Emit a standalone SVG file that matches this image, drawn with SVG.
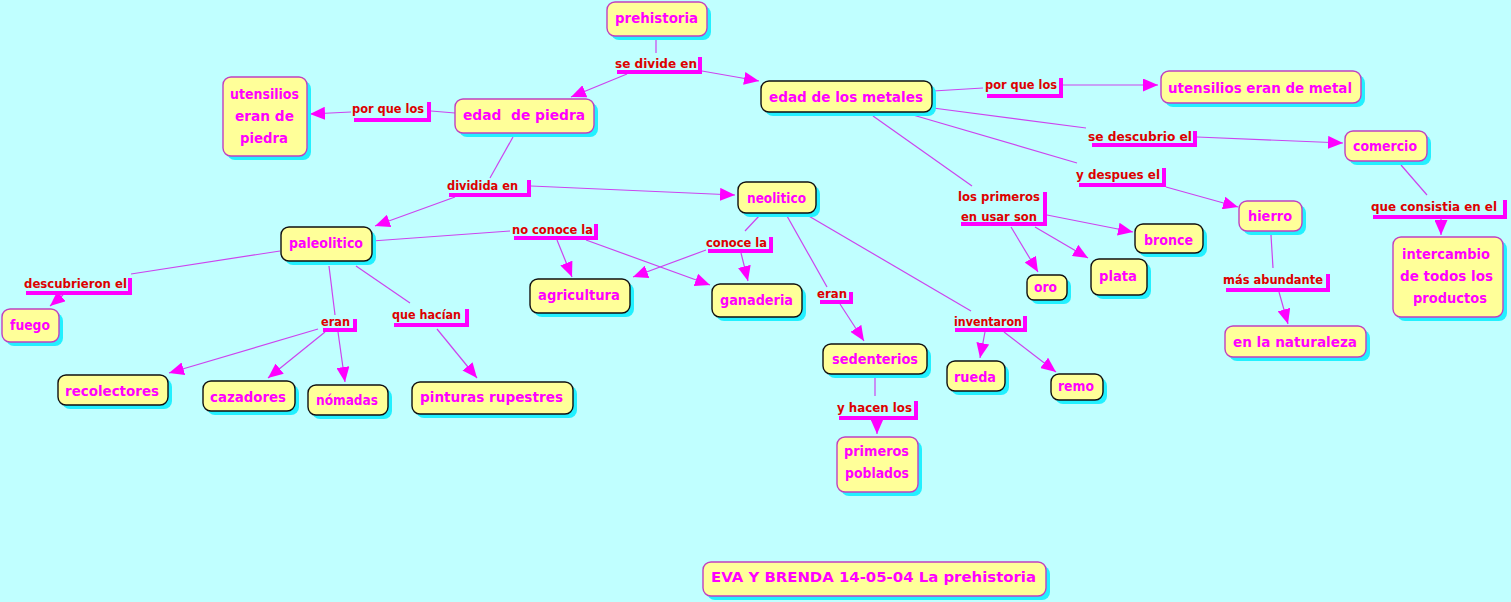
<svg xmlns="http://www.w3.org/2000/svg" width="1511" height="602" viewBox="0 0 1511 602">
<style>
.bg{fill:#c0ffff}
.sh{fill:#22f0ff}
.box{fill:#ffff99;stroke-width:1.4}
.k{stroke:#111}
.m{stroke:#c040c0}
.nt{fill:#ff00ff;font-family:"DejaVu Sans",sans-serif;font-weight:bold;font-size:14.5px;white-space:pre}
.lt{fill:#dd0000;font-family:"DejaVu Sans",sans-serif;font-weight:bold;font-size:13px;white-space:pre}
.br{fill:#ff00ff}
.c line{stroke:#cc44ee;stroke-width:1.2;fill:none}
.c line.a{marker-end:url(#ah)}
</style>
<defs>
<marker id="ah" markerUnits="userSpaceOnUse" markerWidth="15" markerHeight="13" refX="15" refY="6.5" orient="auto">
<path d="M0,0 L15,6.5 L0,13 z" fill="#ff00ff"/>
</marker>
</defs>
<rect class="bg" x="0" y="0" width="1511" height="602"/>

<g id="connectors" class="c">
<line x1="656" y1="37" x2="656" y2="53"/>
<line class="a" x1="627" y1="74" x2="571" y2="97"/>
<line class="a" x1="702" y1="71" x2="759" y2="81"/>
<line x1="455" y1="113" x2="431" y2="111"/>
<line class="a" x1="351" y1="112" x2="310" y2="114"/>
<line x1="933" y1="91" x2="983" y2="88"/>
<line class="a" x1="1063" y1="85" x2="1158" y2="85"/>
<line x1="933" y1="108" x2="1086" y2="128"/>
<line class="a" x1="1197" y1="137" x2="1343" y2="143"/>
<line x1="913" y1="115" x2="1077" y2="163"/>
<line class="a" x1="1166" y1="187" x2="1238" y2="207"/>
<line x1="1401" y1="165" x2="1427" y2="195"/>
<line class="a" x1="1441" y1="219" x2="1441" y2="235"/>
<line x1="1271" y1="235" x2="1273" y2="268"/>
<line class="a" x1="1279" y1="292" x2="1288" y2="324"/>
<line x1="873" y1="116" x2="972" y2="186"/>
<line class="a" x1="1047" y1="215" x2="1133" y2="232"/>
<line class="a" x1="1035" y1="227" x2="1088" y2="258"/>
<line class="a" x1="1011" y1="227" x2="1038" y2="272"/>
<line x1="787" y1="216" x2="827" y2="287"/>
<line class="a" x1="840" y1="304" x2="864" y2="341"/>
<line x1="807" y1="215" x2="971" y2="311"/>
<line class="a" x1="985" y1="332" x2="980" y2="358"/>
<line class="a" x1="1004" y1="332" x2="1056" y2="372"/>
<line x1="875" y1="377" x2="875" y2="396"/>
<line class="a" x1="877" y1="420" x2="877" y2="434"/>
<line x1="513" y1="137" x2="490" y2="178"/>
<line class="a" x1="455" y1="197" x2="375" y2="226"/>
<line class="a" x1="531" y1="186" x2="735" y2="195"/>
<line x1="372" y1="241" x2="510" y2="231"/>
<line class="a" x1="557" y1="240" x2="572" y2="277"/>
<line class="a" x1="586" y1="240" x2="710" y2="285"/>
<line x1="759" y1="216" x2="745" y2="231"/>
<line class="a" x1="706" y1="250" x2="633" y2="277"/>
<line class="a" x1="741" y1="253" x2="748" y2="281"/>
<line x1="280" y1="251" x2="131" y2="274"/>
<line class="a" x1="63" y1="295" x2="50" y2="306"/>
<line x1="329" y1="266" x2="335" y2="315"/>
<line class="a" x1="318" y1="329" x2="169" y2="373"/>
<line class="a" x1="325" y1="332" x2="268" y2="378"/>
<line class="a" x1="338" y1="332" x2="345" y2="382"/>
<line x1="356" y1="266" x2="410" y2="303"/>
<line class="a" x1="437" y1="329" x2="477" y2="378"/>
</g>

<g id="labels">
<g id="l-se-divide"><rect class="br" x="617" y="70" width="85" height="4"/><rect class="br" x="698" y="57" width="4" height="17"/><text class="lt" x="615" y="68" textLength="82" lengthAdjust="spacingAndGlyphs">se divide en</text></g>
<g id="l-porque-l"><rect class="br" x="354" y="118" width="77" height="4"/><rect class="br" x="427" y="102" width="4" height="20"/><text class="lt" x="352" y="113" textLength="72" lengthAdjust="spacingAndGlyphs">por que los</text></g>
<g id="l-porque-r"><rect class="br" x="987" y="94" width="76" height="4"/><rect class="br" x="1059" y="78" width="4" height="20"/><text class="lt" x="985" y="89" textLength="72" lengthAdjust="spacingAndGlyphs">por que los</text></g>
<g id="l-descubrio"><rect class="br" x="1092" y="143" width="105" height="4"/><rect class="br" x="1193" y="131" width="4" height="16"/><text class="lt" x="1088" y="141" textLength="104" lengthAdjust="spacingAndGlyphs">se descubrio el</text></g>
<g id="l-despues"><rect class="br" x="1079" y="183" width="87" height="4"/><rect class="br" x="1162" y="168" width="4" height="19"/><text class="lt" x="1076" y="179" textLength="84" lengthAdjust="spacingAndGlyphs">y despues el</text></g>
<g id="l-consistia"><rect class="br" x="1373" y="215" width="134" height="4"/><rect class="br" x="1503" y="200" width="4" height="19"/><text class="lt" x="1371" y="211" textLength="126" lengthAdjust="spacingAndGlyphs">que consistia en el</text></g>
<g id="l-abundante"><rect class="br" x="1226" y="288" width="104" height="4"/><rect class="br" x="1326" y="274" width="4" height="18"/><text class="lt" x="1223" y="284" textLength="100" lengthAdjust="spacingAndGlyphs">más abundante</text></g>
<g id="l-primeros"><rect class="br" x="961" y="222" width="86" height="4"/><rect class="br" x="1043" y="192" width="4" height="34"/><text class="lt" x="958" y="201" textLength="82" lengthAdjust="spacingAndGlyphs">los primeros</text><text class="lt" x="961" y="221" textLength="76" lengthAdjust="spacingAndGlyphs">en usar son</text></g>
<g id="l-eran-neo"><rect class="br" x="820" y="300" width="33" height="4"/><rect class="br" x="849" y="292" width="4" height="12"/><text class="lt" x="817" y="298" textLength="30" lengthAdjust="spacingAndGlyphs">eran</text></g>
<g id="l-inventaron"><rect class="br" x="955" y="328" width="72" height="4"/><rect class="br" x="1023" y="316" width="4" height="16"/><text class="lt" x="954" y="326" textLength="68" lengthAdjust="spacingAndGlyphs">inventaron</text></g>
<g id="l-hacen"><rect class="br" x="839" y="416" width="79" height="4"/><rect class="br" x="914" y="401" width="4" height="19"/><text class="lt" x="837" y="412" textLength="75" lengthAdjust="spacingAndGlyphs">y hacen los</text></g>
<g id="l-dividida"><rect class="br" x="449" y="193" width="82" height="4"/><rect class="br" x="527" y="180" width="4" height="17"/><text class="lt" x="447" y="190" textLength="71" lengthAdjust="spacingAndGlyphs">dividida en</text></g>
<g id="l-noconoce"><rect class="br" x="514" y="236" width="84" height="4"/><rect class="br" x="594" y="224" width="4" height="16"/><text class="lt" x="512" y="234" textLength="81" lengthAdjust="spacingAndGlyphs">no conoce la</text></g>
<g id="l-conoce"><rect class="br" x="708" y="249" width="65" height="4"/><rect class="br" x="769" y="237" width="4" height="16"/><text class="lt" x="706" y="247" textLength="61" lengthAdjust="spacingAndGlyphs">conoce la</text></g>
<g id="l-descubrieron"><rect class="br" x="26" y="291" width="106" height="4"/><rect class="br" x="128" y="278" width="4" height="17"/><text class="lt" x="24" y="288" textLength="103" lengthAdjust="spacingAndGlyphs">descubrieron el</text></g>
<g id="l-eran-paleo"><rect class="br" x="323" y="328" width="34" height="4"/><rect class="br" x="353" y="319" width="4" height="13"/><text class="lt" x="321" y="326" textLength="29" lengthAdjust="spacingAndGlyphs">eran</text></g>
<g id="l-hacian"><rect class="br" x="394" y="323" width="75" height="4"/><rect class="br" x="465" y="309" width="4" height="18"/><text class="lt" x="392" y="319" textLength="69" lengthAdjust="spacingAndGlyphs">que hacían</text></g>
</g>

<g id="n-prehistoria"><rect class="sh" x="611" y="6" width="100" height="34" rx="8"/><rect class="box m" x="607" y="2" width="100" height="34" rx="8"/><text class="nt" x="615" y="23" textLength="83" lengthAdjust="spacingAndGlyphs">prehistoria</text></g>
<g id="n-metales"><rect class="sh" x="765" y="85" width="171" height="31" rx="8"/><rect class="box k" x="761" y="81" width="171" height="31" rx="8"/><text class="nt" x="769" y="102" textLength="154" lengthAdjust="spacingAndGlyphs">edad de los metales</text></g>
<g id="n-piedra"><rect class="sh" x="459" y="103" width="139" height="34" rx="8"/><rect class="box m" x="455" y="99" width="139" height="34" rx="8"/><text class="nt" x="463" y="120" textLength="122" lengthAdjust="spacingAndGlyphs">edad  de piedra</text></g>
<g id="n-utens-piedra"><rect class="sh" x="227" y="81" width="84" height="79" rx="8"/><rect class="box m" x="223" y="77" width="84" height="79" rx="8"/><text class="nt" x="230" y="99" textLength="69" lengthAdjust="spacingAndGlyphs">utensilios</text><text class="nt" x="235" y="121" textLength="59" lengthAdjust="spacingAndGlyphs">eran de</text><text class="nt" x="240" y="143" textLength="48" lengthAdjust="spacingAndGlyphs">piedra</text></g>
<g id="n-utens-metal"><rect class="sh" x="1165" y="75" width="200" height="32" rx="8"/><rect class="box m" x="1161" y="71" width="200" height="32" rx="8"/><text class="nt" x="1168" y="93" textLength="184" lengthAdjust="spacingAndGlyphs">utensilios eran de metal</text></g>
<g id="n-comercio"><rect class="sh" x="1349" y="135" width="82" height="30" rx="8"/><rect class="box m" x="1345" y="131" width="82" height="30" rx="8"/><text class="nt" x="1353" y="151" textLength="64" lengthAdjust="spacingAndGlyphs">comercio</text></g>
<g id="n-hierro"><rect class="sh" x="1243" y="205" width="63" height="30" rx="8"/><rect class="box m" x="1239" y="201" width="63" height="30" rx="8"/><text class="nt" x="1248" y="221" textLength="44" lengthAdjust="spacingAndGlyphs">hierro</text></g>
<g id="n-intercambio"><rect class="sh" x="1397" y="241" width="110" height="80" rx="8"/><rect class="box m" x="1393" y="237" width="110" height="80" rx="8"/><text class="nt" x="1402" y="259" textLength="88" lengthAdjust="spacingAndGlyphs">intercambio</text><text class="nt" x="1400" y="281" textLength="93" lengthAdjust="spacingAndGlyphs">de todos los</text><text class="nt" x="1413" y="303" textLength="74" lengthAdjust="spacingAndGlyphs">productos</text></g>
<g id="n-bronce"><rect class="sh" x="1139" y="228" width="68" height="29" rx="8"/><rect class="box k" x="1135" y="224" width="68" height="29" rx="8"/><text class="nt" x="1144" y="245" textLength="49" lengthAdjust="spacingAndGlyphs">bronce</text></g>
<g id="n-plata"><rect class="sh" x="1095" y="263" width="56" height="36" rx="8"/><rect class="box k" x="1091" y="259" width="56" height="36" rx="8"/><text class="nt" x="1099" y="281" textLength="38" lengthAdjust="spacingAndGlyphs">plata</text></g>
<g id="n-oro"><rect class="sh" x="1031" y="279" width="40" height="25" rx="7"/><rect class="box k" x="1027" y="275" width="40" height="25" rx="7"/><text class="nt" x="1034" y="292" textLength="23" lengthAdjust="spacingAndGlyphs">oro</text></g>
<g id="n-naturaleza"><rect class="sh" x="1229" y="330" width="141" height="31" rx="8"/><rect class="box m" x="1225" y="326" width="141" height="31" rx="8"/><text class="nt" x="1233" y="347" textLength="124" lengthAdjust="spacingAndGlyphs">en la naturaleza</text></g>
<g id="n-paleolitico"><rect class="sh" x="285" y="231" width="91" height="34" rx="8"/><rect class="box k" x="281" y="227" width="91" height="34" rx="8"/><text class="nt" x="289" y="248" textLength="74" lengthAdjust="spacingAndGlyphs">paleolitico</text></g>
<g id="n-fuego"><rect class="sh" x="6" y="313" width="57" height="33" rx="8"/><rect class="box m" x="2" y="309" width="57" height="33" rx="8"/><text class="nt" x="10" y="330" textLength="40" lengthAdjust="spacingAndGlyphs">fuego</text></g>
<g id="n-recolectores"><rect class="sh" x="62" y="379" width="110" height="30" rx="8"/><rect class="box k" x="58" y="375" width="110" height="30" rx="8"/><text class="nt" x="65" y="396" textLength="94" lengthAdjust="spacingAndGlyphs">recolectores</text></g>
<g id="n-cazadores"><rect class="sh" x="207" y="385" width="92" height="30" rx="8"/><rect class="box k" x="203" y="381" width="92" height="30" rx="8"/><text class="nt" x="210" y="402" textLength="76" lengthAdjust="spacingAndGlyphs">cazadores</text></g>
<g id="n-nomadas"><rect class="sh" x="312" y="389" width="80" height="30" rx="8"/><rect class="box k" x="308" y="385" width="80" height="30" rx="8"/><text class="nt" x="316" y="405" textLength="62" lengthAdjust="spacingAndGlyphs">nómadas</text></g>
<g id="n-pinturas"><rect class="sh" x="416" y="386" width="161" height="32" rx="8"/><rect class="box k" x="412" y="382" width="161" height="32" rx="8"/><text class="nt" x="420" y="402" textLength="143" lengthAdjust="spacingAndGlyphs">pinturas rupestres</text></g>
<g id="n-neolitico"><rect class="sh" x="742" y="186" width="78" height="31" rx="8"/><rect class="box k" x="738" y="182" width="78" height="31" rx="8"/><text class="nt" x="747" y="203" textLength="59" lengthAdjust="spacingAndGlyphs">neolitico</text></g>
<g id="n-agricultura"><rect class="sh" x="534" y="283" width="100" height="34" rx="8"/><rect class="box k" x="530" y="279" width="100" height="34" rx="8"/><text class="nt" x="538" y="300" textLength="82" lengthAdjust="spacingAndGlyphs">agricultura</text></g>
<g id="n-ganaderia"><rect class="sh" x="716" y="288" width="90" height="33" rx="8"/><rect class="box k" x="712" y="284" width="90" height="33" rx="8"/><text class="nt" x="720" y="305" textLength="73" lengthAdjust="spacingAndGlyphs">ganaderia</text></g>
<g id="n-sedenterios"><rect class="sh" x="827" y="348" width="104" height="30" rx="8"/><rect class="box k" x="823" y="344" width="104" height="30" rx="8"/><text class="nt" x="832" y="364" textLength="86" lengthAdjust="spacingAndGlyphs">sedenterios</text></g>
<g id="n-rueda"><rect class="sh" x="951" y="365" width="58" height="30" rx="8"/><rect class="box k" x="947" y="361" width="58" height="30" rx="8"/><text class="nt" x="954" y="382" textLength="42" lengthAdjust="spacingAndGlyphs">rueda</text></g>
<g id="n-remo"><rect class="sh" x="1055" y="378" width="52" height="26" rx="8"/><rect class="box k" x="1051" y="374" width="52" height="26" rx="8"/><text class="nt" x="1058" y="391" textLength="36" lengthAdjust="spacingAndGlyphs">remo</text></g>
<g id="n-poblados"><rect class="sh" x="841" y="441" width="81" height="55" rx="8"/><rect class="box m" x="837" y="437" width="81" height="55" rx="8"/><text class="nt" x="844" y="456" textLength="65" lengthAdjust="spacingAndGlyphs">primeros</text><text class="nt" x="845" y="478" textLength="64" lengthAdjust="spacingAndGlyphs">poblados</text></g>
<g id="n-titulo"><rect class="sh" x="707" y="566" width="343" height="34" rx="8"/><rect class="box m" x="703" y="562" width="343" height="34" rx="8"/><text class="nt" x="711" y="582" textLength="325" lengthAdjust="spacingAndGlyphs">EVA Y BRENDA 14-05-04 La prehistoria</text></g>
</svg>
